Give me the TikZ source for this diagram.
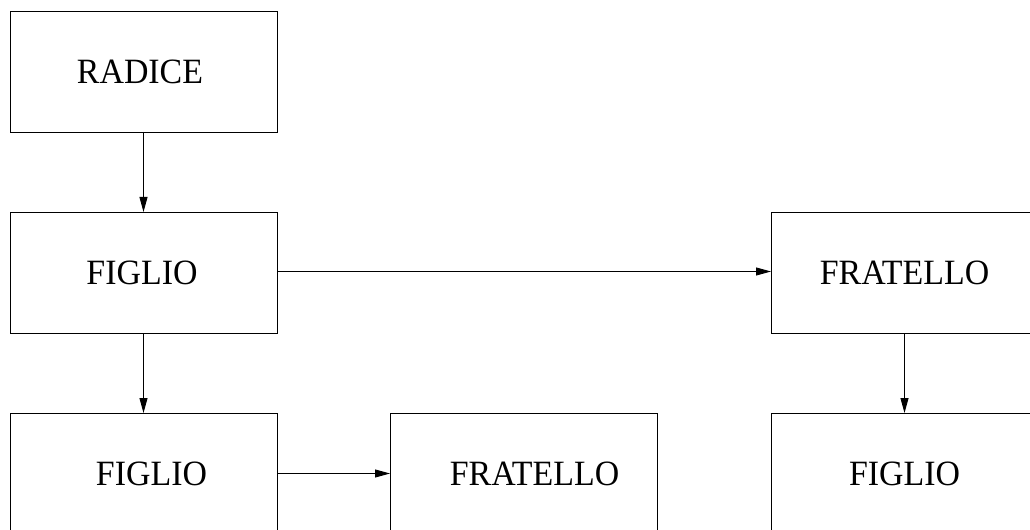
\documentclass[tikz,border=0pt]{standalone}
\usepackage{fontspec}
\setmainfont{Liberation Serif}
\usetikzlibrary{arrows.meta}
\begin{document}
\begin{tikzpicture}[x=1bp,y=-1bp,
  box/.style={draw=black,line width=0.9bp,minimum width=267bp,minimum height=121bp,
    inner sep=0pt,outer sep=0pt,anchor=north west,font=\fontsize{34}{40}\selectfont},
  conn/.style={draw=black,line width=0.9bp,-{Triangle[length=15bp,width=8bp]}}]
\useasboundingbox (0,0) rectangle (1030,530);
\node[box] (radice) at (10,11) {\hspace*{-7bp}\scalebox{1}[1.05]{RADICE}};
\node[box] (figlio1) at (10,212) {\hspace*{-3bp}\scalebox{1}[1.05]{FIGLIO}};
\node[box] (fratello1) at (771,212) {\scalebox{1}[1.05]{FRATELLO}};
\node[box] (figlio2) at (10,413) {\hspace*{16bp}\scalebox{1}[1.05]{FIGLIO}};
\node[box] (fratello2) at (390,413) {\hspace*{22bp}\scalebox{1}[1.05]{FRATELLO}};
\node[box] (figlio3) at (771,413) {\scalebox{1}[1.05]{FIGLIO}};
\draw[conn] (radice.south) -- (figlio1.north);
\draw[conn] (figlio1.south) -- (figlio2.north);
\draw[conn] ([yshift=1bp]figlio1.east) -- ([yshift=1bp]fratello1.west);
\draw[conn] (figlio2.east) -- (fratello2.west);
\draw[conn] (fratello1.south) -- (figlio3.north);
\end{tikzpicture}
\end{document}
